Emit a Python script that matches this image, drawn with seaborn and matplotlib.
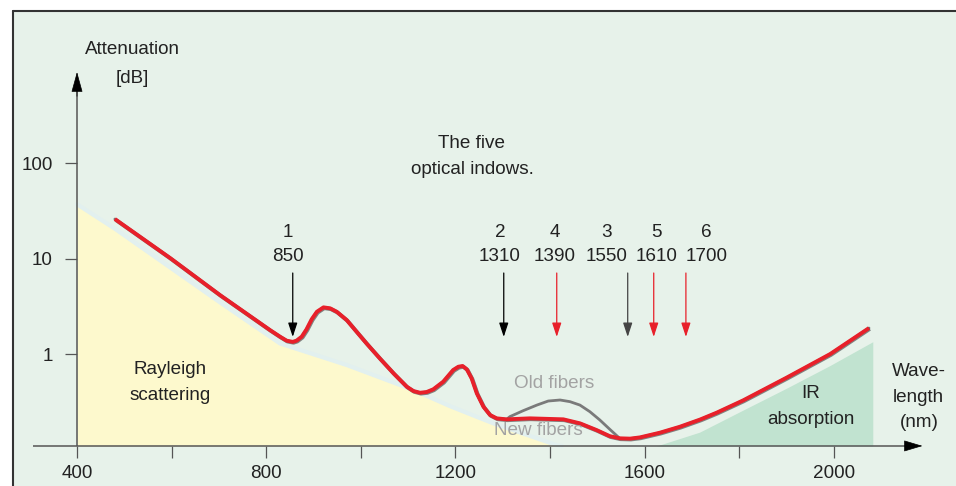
import numpy as np
import pandas as pd
import seaborn as sns
import matplotlib.pyplot as plt
import matplotlib.patheffects as pe
from matplotlib.lines import Line2D
from matplotlib.transforms import blended_transform_factory

# ---- data ----
# new fibers (red curve), wavelength in nm / attenuation in dB
new_lam = [480, 597, 702, 808, 829, 843, 856, 864, 875, 885, 896, 907, 921, 935, 949,
           970, 991, 1012, 1040, 1069, 1097, 1111, 1125, 1139, 1153, 1174, 1195, 1206,
           1215, 1224, 1234, 1245, 1259, 1273, 1287, 1308, 1357, 1428, 1463, 1498, 1526,
           1547, 1569, 1590, 1632, 1674, 1717, 1752, 1808, 1900, 1992, 2074]
new_att = [25.9, 10.1, 4.15, 1.78, 1.52, 1.38, 1.34, 1.38, 1.52, 1.81, 2.31, 2.77, 3.08, 3.01, 2.77,
           2.27, 1.71, 1.29, 0.90, 0.628, 0.455, 0.41, 0.393, 0.40, 0.427, 0.513, 0.68, 0.736,
           0.749, 0.691, 0.557, 0.388, 0.281, 0.23, 0.212, 0.207, 0.212, 0.207, 0.188, 0.16, 0.138,
           0.131, 0.130, 0.134, 0.150, 0.173, 0.206, 0.243, 0.327, 0.566, 1.0, 1.87]

# old fibers: water peak around 1390 nm
bump_lam = [1315, 1343, 1372, 1396, 1421, 1442, 1463, 1484, 1505, 1526]
bump_att = [0.221, 0.255, 0.292, 0.322, 0.330, 0.317, 0.292, 0.249, 0.204, 0.163]

# rayleigh scattering area
ray_lam = [400, 480, 702, 829, 970, 1111, 1188, 1251, 1280, 1414, 1425]
ray_att = [37.0, 20.5, 3.48, 1.29, 0.767, 0.42, 0.285, 0.214, 0.188, 0.111, 0.109]

# IR absorption area
ir_lam = [1625, 1716, 1808, 1899, 1991, 2082]
ir_att = [0.109, 0.152, 0.259, 0.437, 0.755, 1.345]

# the optical windows
win_no = ['1', '2', '4', '3', '5', '6']
win_nm = ['850', '1310', '1390', '1550', '1610', '1700']
win_arrow_at = [856, 1302, 1414, 1564, 1619, 1687]
win_label_at = [846, 1294, 1410, 1520, 1625, 1731]
win_color = ['black', 'black', '#e8202a', '#444444', '#e8202a', '#e8202a']

xticks = [400, 800, 1200, 1600, 2000]
xminor = [600, 1000, 1400, 1800]
yticks = [1, 10, 100]
ytick_labels = ['1', '10', '100']

# ---- style ----
sns.set_style('white')
plt.rcParams['font.family'] = ['Liberation Sans', 'DejaVu Sans']

BG = '#e7f2ea'
YELLOW = '#fdf9cd'
GREEN = '#c1e3d0'
RED = '#e8202a'
TXT = '#222222'
AX_COL = '#555555'
FS = 13.6

W, H = 956, 486
fig = plt.figure(figsize=(W / 100, H / 100), dpi=100)
fig.patch.set_facecolor('white')

# panel: starts at x=13, y=11 px
ax = fig.add_axes([13 / W, 0, 1 - 13 / W, 1 - 11 / H])
ax.set_facecolor(BG)
ax.set_yscale('log')
ax.set_xlim(264.7, 2257.9)
ax.set_ylim(0.0415, 3906)

AXIS_Y = 0.109
Y_TOP = 897

def px(x, y):
    return (x / W, 1 - y / H)

# border of the panel
fig.add_artist(Line2D([13 / W, 13 / W], [0, 1 - 11 / H], color='#333333', lw=1.5))
fig.add_artist(Line2D([13 / W, 1], [1 - 11 / H, 1 - 11 / H], color='#333333', lw=1.5))

# shaded areas
ax.fill_between(ray_lam, ray_att, AXIS_Y, color=YELLOW, lw=0, zorder=1)
ax.plot(ray_lam, ray_att, color='#e2f0ef', lw=3, zorder=1.1)
ax.fill_between(ir_lam, ir_att, AXIS_Y, color=GREEN, lw=0, zorder=1)

# curves
i0 = new_lam.index(1308)
i1 = new_lam.index(1547)
old_lam = new_lam[:i0 + 1] + bump_lam + new_lam[i1:]
old_att = new_att[:i0 + 1] + bump_att + new_att[i1:]

df_old = pd.DataFrame({'lam': old_lam, 'att': old_att})
df_new = pd.DataFrame({'lam': new_lam, 'att': new_att})
sns.lineplot(data=df_old, x='lam', y='att', ax=ax, color='#7a7a7a', lw=2.0, zorder=3)
line = sns.lineplot(data=df_new, x='lam', y='att', ax=ax, color=RED, lw=2.8, zorder=4).lines[-1]
line.set_path_effects([pe.SimpleLineShadow(offset=(0.6, -0.6), shadow_color='#555555', alpha=0.7),
                       pe.Normal()])
line.set_solid_capstyle('butt')
line.set_solid_joinstyle('round')

# axes with arrows
ax.plot([307, 2160], [AXIS_Y, AXIS_Y], color=AX_COL, lw=1.1, zorder=5, solid_capstyle='butt')
ax.annotate('', xy=(2187, AXIS_Y), xytext=(2150, AXIS_Y),
            arrowprops=dict(arrowstyle='-|>,head_length=1.2,head_width=0.36', color='black',
                            lw=0.5, shrinkA=0, shrinkB=0), zorder=6)
ax.plot([400, 400], [AXIS_Y, 600], color=AX_COL, lw=1.1, zorder=5, solid_capstyle='butt')
ax.annotate('', xy=(400, Y_TOP), xytext=(400, 500),
            arrowprops=dict(arrowstyle='-|>,head_length=1.3,head_width=0.36', color='black',
                            lw=0.5, shrinkA=0, shrinkB=0), zorder=6)

# ticks from the real axis machinery
for s in ['right', 'top']:
    ax.spines[s].set_visible(False)
ax.spines['bottom'].set_position(('data', AXIS_Y))
ax.spines['left'].set_position(('data', 400))
ax.spines['bottom'].set_color('none')
ax.spines['left'].set_color('none')
ax.set_xticks(xticks)
ax.set_xticks(xminor, minor=True)
ax.set_yticks(yticks)
ax.set_yticklabels(ytick_labels)
ax.yaxis.set_minor_locator(plt.NullLocator())
ax.tick_params(axis='x', which='both', direction='out', length=8.6, width=0.9, color=AX_COL,
               bottom=True, pad=5, labelsize=FS, labelcolor=TXT)
ax.tick_params(axis='y', which='both', direction='out', length=8.6, width=0.9, color=AX_COL,
               left=True, pad=9, labelsize=FS, labelcolor=TXT)
ax.set_xlabel('')
ax.set_ylabel('')

# window arrows and labels
ARROW_TAIL = 7.05
ARROW_TIP = 1.51
lab_tr = blended_transform_factory(ax.transData, fig.transFigure)
for no, nm, xa, xl, c in zip(win_no, win_nm, win_arrow_at, win_label_at, win_color):
    ax.annotate('', xy=(xa, ARROW_TIP), xytext=(xa, ARROW_TAIL),
                arrowprops=dict(arrowstyle='-|>,head_length=0.85,head_width=0.28', color=c,
                                lw=0.9, shrinkA=0, shrinkB=0), zorder=6)
    ax.text(xl, 1 - 232 / H, no, transform=lab_tr, ha='center', va='center', fontsize=FS, color=TXT)
    ax.text(xl, 1 - 256 / H, nm, transform=lab_tr, ha='center', va='center', fontsize=FS, color=TXT)

# texts
def label(x, y, s, color=TXT):
    fig.text(*px(x, y), s, ha='center', va='center', fontsize=FS, color=color)

label(132, 50, 'Attenuation')
label(132, 78, '[dB]')
label(471, 143, 'The five')
label(472, 169, 'optical indows.')
label(170, 370, 'Rayleigh')
label(170, 395, 'scattering')
label(811, 393, 'IR')
label(811, 420, 'absorption')
label(919, 371, 'Wave-')
label(918, 397, 'length')
label(919, 422, '(nm)')
label(554, 383, 'Old fibers', color='#a3a3a3')
label(538, 430, 'New fibers', color='#a3a3a3')

fig.savefig('out.png', dpi=100)
